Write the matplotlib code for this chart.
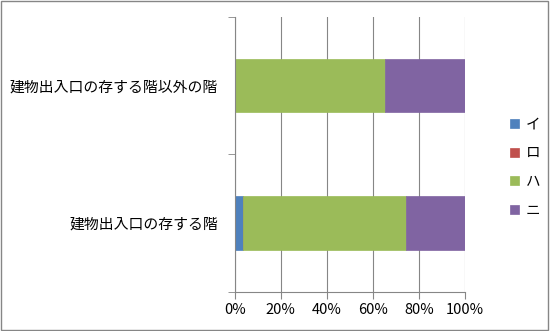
import numpy as np
import matplotlib
matplotlib.use("Agg")
from matplotlib import pyplot as plt
from matplotlib.patches import Rectangle

plt.rcParams['font.family'] = ['Noto Sans CJK JP', 'DejaVu Sans']

# data
categories = ["建物出入口の存する階", "建物出入口の存する階以外の階"]
series_names = ["イ", "ロ", "ハ", "ニ"]
values = {
    "イ": [3.6, 0.0],
    "ロ": [0.0, 0.0],
    "ハ": [71.0, 65.2],
    "ニ": [25.4, 34.8],
}
colors = ["#4f81bd", "#c0504d", "#9bbb59", "#8064a2"]
x_ticks = [0, 20, 40, 60, 80, 100]
x_labels = ["0%", "20%", "40%", "60%", "80%", "100%"]

fig = plt.figure(figsize=(5.5, 3.31), dpi=100)
ax = fig.add_axes([0.427, 0.118, 0.418, 0.831])

# outer border of the chart
fig.patches.append(Rectangle((0.002, 0.003), 0.995, 0.994, transform=fig.transFigure,
                             fill=False, edgecolor="#868686", linewidth=1.0))

y = np.arange(len(categories))
left = np.zeros(len(categories))
for name, c in zip(series_names, colors):
    v = np.array(values[name])
    ax.barh(y, v, left=left, height=0.39, color=c, label=name, edgecolor=c, linewidth=0.5)
    left += v

ax.set_xlim(0, 100)
ax.set_ylim(-0.5, 1.5)
ax.set_xticks(x_ticks)
ax.set_xticklabels(x_labels, fontsize=10.5)
ax.set_yticks(y)
ax.set_yticklabels(categories, fontsize=10.7)
ax.tick_params(axis="y", length=0, pad=12)
ax.set_yticks([-0.5, 0.5, 1.5], minor=True)
ax.tick_params(axis="y", which="minor", length=5, color="#868686")
ax.tick_params(axis="x", length=5, color="#868686", pad=3)

ax.grid(axis="x", color="#868686", linewidth=0.8)
ax.set_axisbelow(True)
for s in ["top", "right"]:
    ax.spines[s].set_visible(False)
for s in ["left", "bottom"]:
    ax.spines[s].set_color("#868686")

ax.legend(loc="center left", bbox_to_anchor=(1.14, 0.452), frameon=False, fontsize=10.5,
          handlelength=0.6, handleheight=0.6, labelspacing=1.0, handletextpad=0.5)

fig.savefig("out.png", dpi=100)
